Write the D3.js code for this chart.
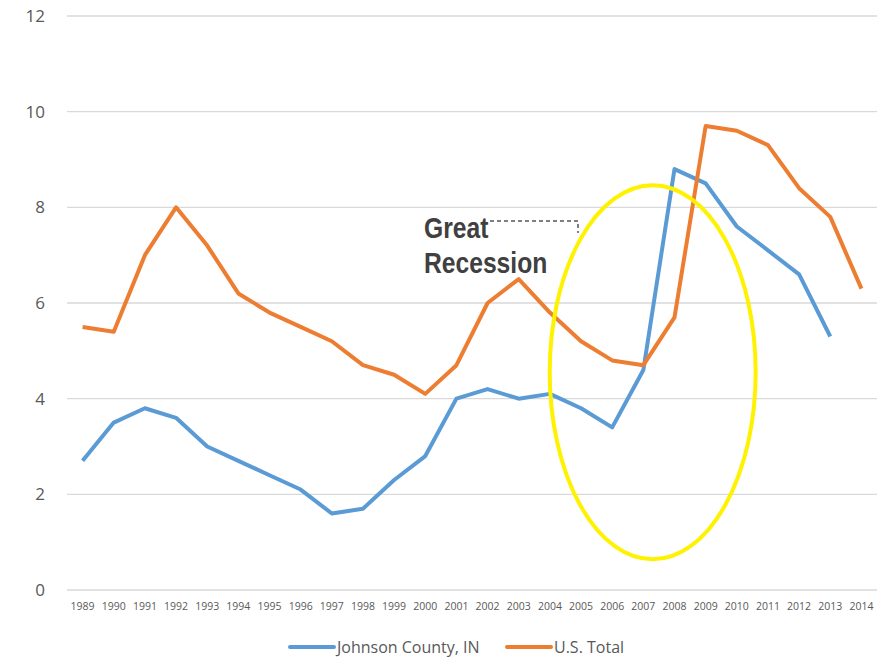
<!DOCTYPE html>
<html>
<head>
<meta charset="utf-8">
<script src="https://cdn.jsdelivr.net/npm/d3@7"></script>
<style>
  body { margin: 0; background: #fff; }
  svg { display: block; font-family: "Open Sans", "Noto Sans", sans-serif; }
</style>
</head>
<body>
<div id="chart"></div>
<script>
// data
const years = ['1989','1990','1991','1992','1993','1994','1995','1996','1997','1998','1999','2000','2001',
               '2002','2003','2004','2005','2006','2007','2008','2009','2010','2011','2012','2013','2014'];
const johnson = [2.7, 3.5, 3.8, 3.6, 3.0, 2.7, 2.4, 2.1, 1.6, 1.7, 2.3, 2.8, 4.0,
                 4.2, 4.0, 4.1, 3.8, 3.4, 4.6, 8.8, 8.5, 7.6, 7.1, 6.6, 5.3, null];
const usTotal = [5.5, 5.4, 7.0, 8.0, 7.2, 6.2, 5.8, 5.5, 5.2, 4.7, 4.5, 4.1, 4.7,
                 6.0, 6.5, 5.8, 5.2, 4.8, 4.7, 5.7, 9.7, 9.6, 9.3, 8.4, 7.8, 6.3];
const yTicks = [0, 2, 4, 6, 8, 10, 12];
const seriesNames = ['Johnson County, IN', 'U.S. Total'];
const seriesColors = ['#5B9BD5', '#ED7D31'];

const width = 888, height = 657;
const plot = { left: 67, right: 877, top: 16, bottom: 590 };

const svg = d3.select('#chart').append('svg')
    .attr('width', width)
    .attr('height', height);

const x = d3.scaleBand().domain(years).range([plot.left, plot.right]);
const y = d3.scaleLinear().domain([0, 12]).range([plot.bottom, plot.top]);

// gridlines
svg.append('g')
    .selectAll('line')
    .data(yTicks)
    .join('line')
    .attr('x1', plot.left).attr('x2', plot.right)
    .attr('y1', d => y(d)).attr('y2', d => y(d))
    .attr('stroke', '#d9d9d9')
    .attr('stroke-width', 1.3);

// y labels
svg.append('g')
    .selectAll('text')
    .data(yTicks)
    .join('text')
    .attr('x', 45)
    .attr('y', d => y(d))
    .attr('dy', '0.35em')
    .attr('text-anchor', 'end')
    .attr('font-size', 17)
    .attr('fill', '#595959')
    .text(d => d);

// x labels
svg.append('g')
    .selectAll('text')
    .data(years)
    .join('text')
    .attr('x', d => x(d) + x.bandwidth() / 2)
    .attr('y', 610)
    .attr('text-anchor', 'middle')
    .attr('font-size', 10.5)
    .attr('fill', '#595959')
    .text(d => d);

// lines
const line = d3.line()
    .defined(d => d.v != null)
    .x(d => x(d.year) + x.bandwidth() / 2)
    .y(d => y(d.v));

[johnson, usTotal].forEach((vals, i) => {
    svg.append('path')
        .datum(years.map((yr, j) => ({ year: yr, v: vals[j] })))
        .attr('fill', 'none')
        .attr('stroke', seriesColors[i])
        .attr('stroke-width', 4)
        .attr('stroke-linejoin', 'round')
        .attr('d', line);
});

// recession ellipse (hand drawn over 2007-2008)
const cx = x('2007') + x.bandwidth() * 0.8;
svg.append('ellipse')
    .attr('cx', cx)
    .attr('cy', y(4.55))
    .attr('rx', 103)
    .attr('ry', 187)
    .attr('fill', 'none')
    .attr('stroke', '#FFF200')
    .attr('stroke-width', 4);

// annotation
const note = svg.append('text')
    .attr('transform', 'translate(424,0) scale(0.85,1)')
    .attr('font-family', '"Liberation Sans", Arial, sans-serif')
    .attr('font-weight', 'bold')
    .attr('font-size', 29)
    .attr('fill', '#404040');
note.append('tspan').attr('x', 0).attr('y', 238).text('Great');
note.append('tspan').attr('x', 0).attr('y', 273).text('Recession');

svg.append('path')
    .attr('d', 'M490,221 H578 V233')
    .attr('fill', 'none')
    .attr('stroke', '#000')
    .attr('stroke-width', 1)
    .attr('stroke-dasharray', '4,3');

// legend
const legendX = [290, 507];
seriesNames.forEach((name, i) => {
    const g = svg.append('g').attr('transform', `translate(${legendX[i]},647)`);
    g.append('line')
        .attr('x1', 0).attr('x2', 44)
        .attr('stroke', seriesColors[i])
        .attr('stroke-width', 4)
        .attr('stroke-linecap', 'round');
    g.append('text')
        .attr('x', 47)
        .attr('dy', '0.35em')
        .attr('font-size', 16)
        .attr('fill', '#595959')
        .text(name);
});
</script>
</body>
</html>
